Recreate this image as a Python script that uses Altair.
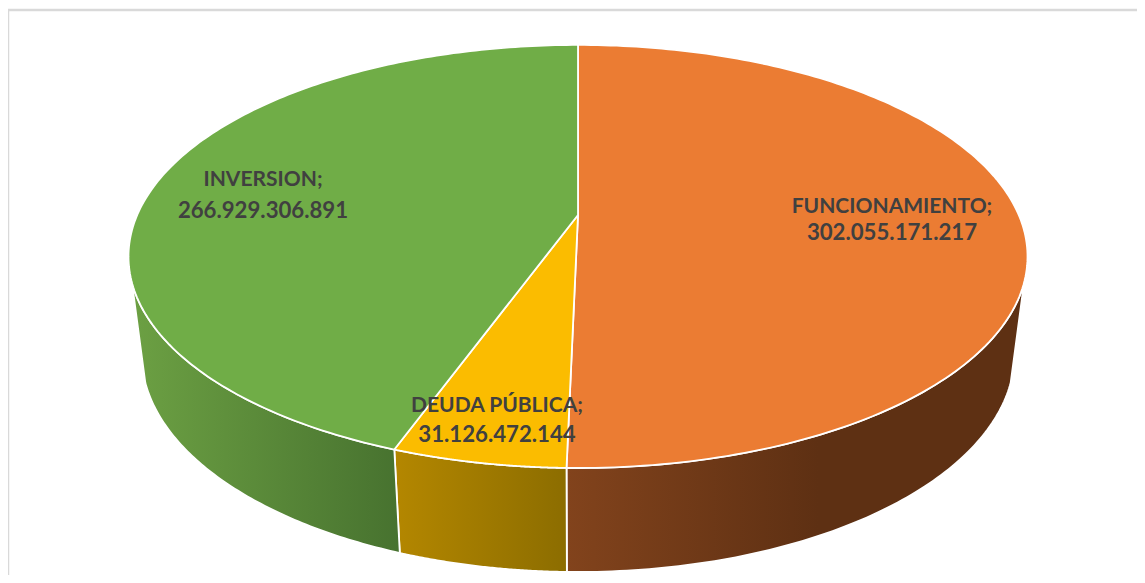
import math
import altair as alt
import pandas as pd

categories = ["FUNCIONAMIENTO", "DEUDA PÚBLICA", "INVERSION"]
values = [302055171217, 31126472144, 266929306891]
value_labels = ["302.055.171.217", "31.126.472.144", "266.929.306.891"]
top_colors = ["#EB7C33", "#FBBC00", "#70AD47"]
side_stops = [
    [("#82431C", 0.0), ("#5E3013", 0.55), ("#5E3013", 1.0)],
    [("#B48700", 0.0), ("#8C6D00", 1.0)],
    [("#6CA043", 0.0), ("#47722F", 1.0)],
]

# pie geometry (picture pixels)
CX, CY, K, AY, BX = 578.0, 215.0, -0.196, 203.4, 440.8
BOT_CY, BOT_A, BOT_B = 354.0, 436.5, 218.0
SCALE_B = 0.97
SIL = 108.2
RIGHT, BOTTOM = 1137, 575


def top(theta):
    t = math.radians(theta)
    u, v = math.sin(t), -math.cos(t)
    d = 1 + K * v
    return CX + BX * u / d, CY + AY * v / d


def bottom(theta):
    x, _ = top(theta)
    dx = (x - CX) * SCALE_B
    r = max(0.0, 1 - (dx / BOT_A) ** 2)
    return CX + dx, BOT_CY + BOT_B * math.sqrt(r)


def sweep(a, b, n=90):
    return [a + (b - a) * i / n for i in range(n + 1)]


total = sum(values)
edges = [0.0]
for val in values:
    edges.append(edges[-1] + 360.0 * val / total)


def frame(points):
    return pd.DataFrame({"x": [p[0] for p in points], "y": [p[1] for p in points], "i": range(len(points))})


X = alt.X("x:Q", scale=alt.Scale(domain=[8, RIGHT]), axis=None)
Y = alt.Y("y:Q", scale=alt.Scale(domain=[BOTTOM, 8]), axis=None)


def poly(points, fill, stroke="white", width=1.8):
    return (
        alt.Chart(frame(points))
        .mark_line(fill=fill, stroke=stroke, strokeWidth=width, strokeJoin="round")
        .encode(x=X, y=Y, order=alt.Order("i:Q"))
    )


layers = []
# frame of the picture
layers.append(
    alt.Chart(frame([(8, BOTTOM), (8, 10), (RIGHT, 10)]))
    .mark_line(stroke="#D9D9D9", strokeWidth=2.5)
    .encode(x=X, y=Y, order=alt.Order("i:Q"))
)

# side walls
side_ranges = [
    (edges[1], SIL),
    (edges[1], edges[2]),
    (edges[2], 360 - SIL),
]
for (a, b), stops in zip(side_ranges, side_stops):
    angles = sweep(a, b)
    pts = [top(t) for t in angles] + [bottom(t) for t in reversed(angles)]
    pts.append(pts[0])
    grad = alt.Gradient(
        gradient="linear",
        stops=[alt.GradientStop(color=c, offset=o) for c, o in stops],
        x1=0, x2=1, y1=0, y2=0,
    )
    layers.append(poly(pts, grad))

# top slices
for i, col in enumerate(top_colors):
    pts = [(CX, CY)] + [top(t) for t in sweep(edges[i], edges[i + 1], 180)] + [(CX, CY)]
    layers.append(poly(pts, col))

name_labels = pd.DataFrame(
    {"text": [c + ";" for c in categories], "x": [892, 497, 263], "y": [206.5, 406, 180]}
)
number_labels = pd.DataFrame(
    {"text": value_labels, "x": [892, 497, 263], "y": [233, 435, 211]}
)
for table, size in ((name_labels, 21), (number_labels, 22.2)):
    layers.append(
        alt.Chart(table)
        .mark_text(font="Lato", fontWeight="bold", fontSize=size, color="#404040", baseline="middle", align="center")
        .encode(x=X, y=Y, text="text:N")
    )

chart = (
    alt.layer(*layers)
    .properties(width=RIGHT - 8, height=BOTTOM - 8, padding=0, autosize=alt.AutoSizeParams(type="none"), background="white")
    .configure_view(stroke=None)
)
chart.save("out.html", embed_options={"renderer": "svg", "actions": False})
